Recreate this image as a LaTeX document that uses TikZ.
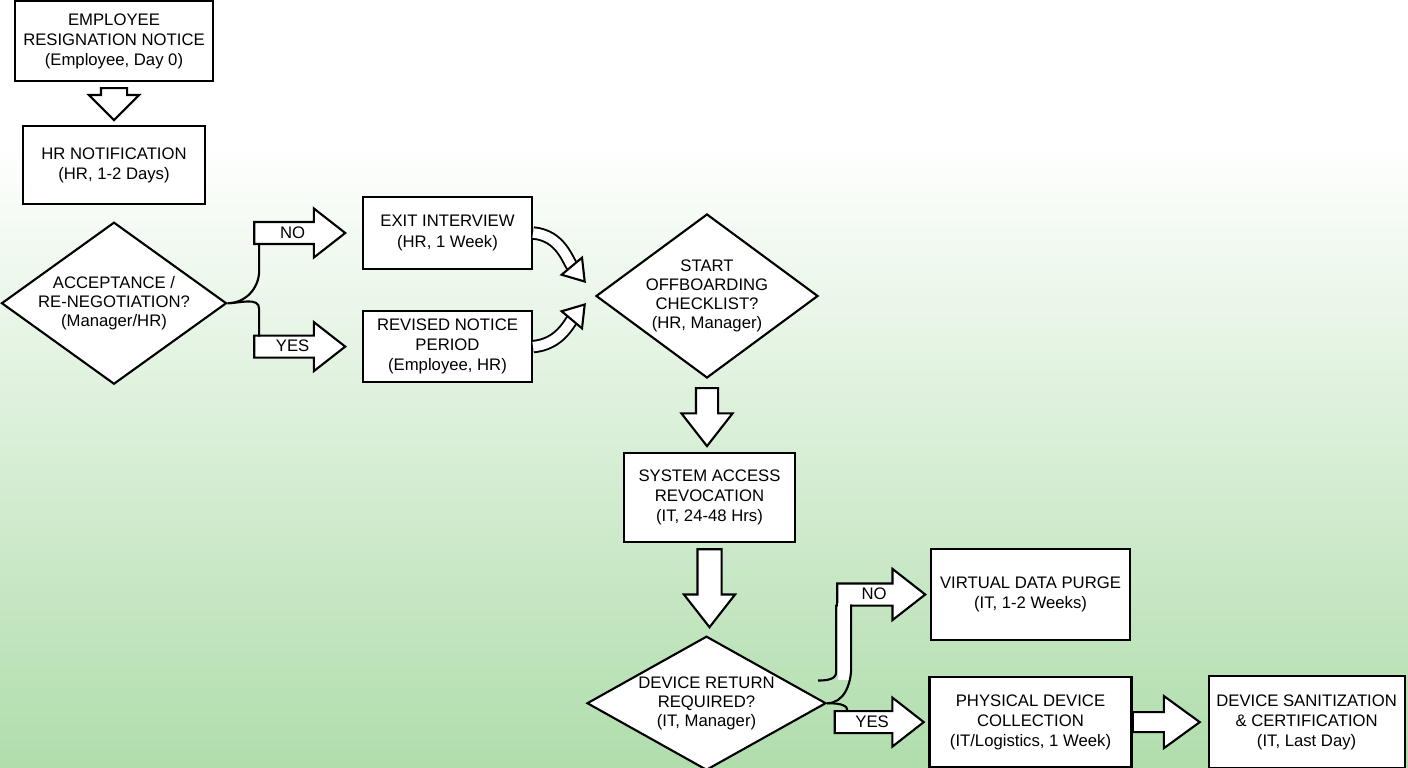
\documentclass[tikz,border=0pt]{standalone}
\usepackage{fontspec}
\setmainfont{Liberation Sans}
\usepackage{xcolor}
\usetikzlibrary{positioning, arrows.meta, shapes, calc}

\definecolor{bgGreen}{RGB}{176,221,172}

\begin{document}
\begin{tikzpicture}[
    font=\fontsize{9.5}{11.4}\selectfont,
    task/.style={rectangle, draw=black, line width=1.2pt, fill=white, align=center, inner sep=2pt},
    decision/.style={diamond, draw=black, line width=1.2pt, fill=white, inner sep=0pt},
    dtext/.style={align=center, font=\fontsize{9.5}{10.9}\selectfont},
    fatarrow/.style={single arrow, draw=black, line width=1.2pt, fill=white,
        single arrow head extend=0.27cm, single arrow tip angle=76,
        text height=0.26cm, text depth=0.06cm, inner xsep=0pt, inner ysep=0.04cm},
    fatcurve/.style={draw=white, line width=5.4pt, shorten >=0.4cm,
        preaction={draw=black, line width=7.6pt, shorten >=0.4cm},
        postaction={draw=white, line width=0.2pt, shorten >=0pt,
            -{Triangle[open, fill=white, color=black, length=0.46cm, width=0.6cm, line width=1.2pt]}}},
    link/.style={draw=black, line width=1.2pt}
]
    % background
    \fill[white] (0,0) rectangle (28.16,-2.8);
    \shade[top color=white, bottom color=bgGreen] (0,-2.8) rectangle (28.16,-15.36);
    \useasboundingbox (0,0) rectangle (28.16,-15.36);

    % HR part
    \node[task, minimum width=3.96cm, minimum height=1.6cm] (notice) at (2.28,-0.82) {EMPLOYEE\\RESIGNATION NOTICE\\(Employee, Day 0)};
    \node[task, minimum width=3.64cm, minimum height=1.56cm, below=0.86cm of notice] (hrnote) {HR NOTIFICATION\\(HR, 1-2 Days)};
    \node[decision, minimum width=4.5cm, minimum height=3.24cm, below=0.32cm of hrnote,
        label={[dtext]center:{ACCEPTANCE /\\RE-NEGOTIATION?\\(Manager/HR)}}] (accept) {};
    \node[task, minimum width=3.38cm, minimum height=1.44cm] (exitint) at (8.95,-4.66) {EXIT INTERVIEW\\(HR, 1 Week)};
    \node[task, minimum width=3.38cm, minimum height=1.42cm, below=0.8cm of exitint] (revised) {REVISED NOTICE\\PERIOD\\(Employee, HR)};
    \node[decision, minimum width=4.44cm, minimum height=3.28cm,
        label={[dtext]center:{START\\OFFBOARDING\\CHECKLIST?\\(HR, Manager)}}] (offb) at (14.14,-5.92) {};

    % IT part
    \node[task, minimum width=3.42cm, minimum height=1.78cm, below=1.46cm of offb, xshift=0.05cm] (sysrev) {SYSTEM ACCESS\\REVOCATION\\(IT, 24-48 Hrs)};
    \node[decision, minimum width=4.78cm, minimum height=2.68cm, below=1.84cm of sysrev, xshift=-0.06cm,
        label={[dtext]center:{DEVICE RETURN\\REQUIRED?\\(IT, Manager)}}] (devret) {};
    \node[task, minimum width=3.98cm, minimum height=1.82cm] (purge) at (20.61,-11.89) {VIRTUAL DATA PURGE\\(IT, 1-2 Weeks)};
    \node[task, minimum width=4.04cm, minimum height=1.8cm, below=0.7cm of purge] (collect) {PHYSICAL DEVICE\\COLLECTION\\(IT/Logistics, 1 Week)};
    \node[task, minimum width=3.92cm, minimum height=1.84cm, right=1.5cm of collect] (sanit) {DEVICE SANITIZATION\\\& CERTIFICATION\\(IT, Last Day)};

    % block arrows
    \node[fatarrow, rotate=-90, minimum height=0.64cm, single arrow head extend=0.24cm, single arrow tip angle=90,
        inner ysep=0.08cm, below=0.1cm of notice, anchor=tail] (down1) {};
    \node[fatarrow, rotate=-90, minimum height=1.16cm, single arrow head extend=0.29cm,
        below=0.16cm of offb, anchor=tail] (down2) {};
    \node[fatarrow, rotate=-90, minimum height=1.56cm, inner ysep=0.06cm,
        below=0.1cm of sysrev, anchor=tail] (down3) {};
    \node[fatarrow, minimum height=1.82cm, left=0.3cm of exitint, anchor=tip] (noA) {NO};
    \node[fatarrow, minimum height=1.82cm, left=0.3cm of revised, anchor=tip] (yesA) {YES};
    \node[fatarrow, minimum height=1.76cm, single arrow head extend=0.29cm, left=0.06cm of purge, anchor=tip] (noB) {NO};
    \node[fatarrow, minimum height=1.78cm, left=0.06cm of collect, anchor=tip] (yesB) {YES};
    \node[fatarrow, minimum height=1.34cm, inner ysep=0.02cm, single arrow head extend=0.32cm,
        single arrow tip angle=72, left=0.12cm of sanit, anchor=tip] (right4) {};

    % split after acceptance
    \draw[link] (accept.east) to[out=0, in=-90] ($(noA.tail)+(0.12,-0.75)$) -- ($(noA.tail)+(0.12,-0.2)$);
    \draw[link] (accept.east) to[out=0, in=90] ($(yesA.tail)+(0.12,0.75)$) -- ($(yesA.tail)+(0.12,0.2)$);

    % both paths join the checklist
    \draw[fatcurve] (exitint.east) to[out=-5, in=130] ($(offb.west)+(-0.18,0.26)$);
    \draw[fatcurve] (revised.east) to[out=5, in=230] ($(offb.west)+(-0.18,-0.14)$);

    % device return branches
    \fill[white] ($(noB.tail)+(0.03,-0.16)$) rectangle ($(noB.tail)+(0.27,-1.7)$);
    \draw[link] ($(noB.tail)+(0,-0.2)$) -- ($(noB.tail)+(0,-1.55)$) to[out=-90, in=0] ($(noB.tail)+(-0.36,-1.72)$);
    \draw[link] ($(noB.tail)+(0.3,-0.2)$) -- ($(noB.tail)+(0.3,-1.45)$) to[out=-90, in=0] (devret.east);
    \draw[link] (devret.east) .. controls +(0.3,0) and +(0,0.12) .. ($(yesB.tail)+(0.28,0.21)$);

\end{tikzpicture}
\end{document}
